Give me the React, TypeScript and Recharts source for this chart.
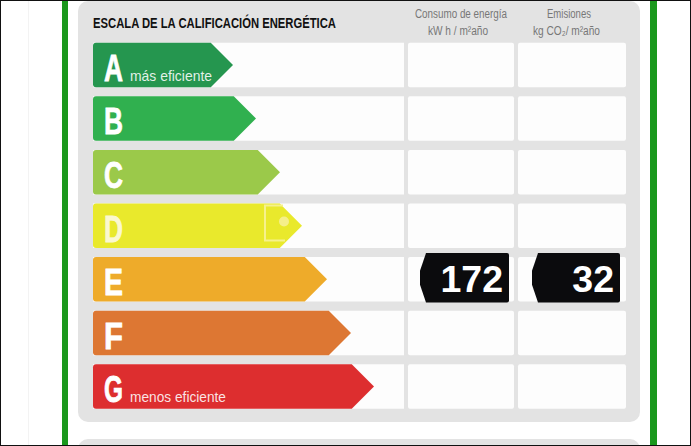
import React from "react";
import { BarChart, Bar, XAxis, YAxis } from "recharts";

const categories = ["A", "B", "C", "D", "E", "F", "G"];
const ratingLength = [140, 163, 187, 209, 234, 258, 281];
const consumo = [null, null, null, null, 172, null, null];
const emisiones = [null, null, null, null, 32, null, null];
const colors = ["#25964f", "#30b04f", "#9bc94a", "#e9e92c", "#eeab2a", "#dd7733", "#dd2e2f"];
const captions: Record<string, string> = { A: "más eficiente", G: "menos eficiente" };

const SANS = "'Liberation Sans', sans-serif";
const ROW_SPAN = 311;
const GAP = 4;
const CELL_1 = 106;
const CELL_2 = 108;

const data = categories.map((c, i) => ({
  c,
  rating: ratingLength[i],
  color: colors[i],
  consumo: consumo[i],
  emisiones: emisiones[i],
  row: ROW_SPAN,
  gap1: GAP,
  cell1: CELL_1,
  gap2: GAP,
  cell2: CELL_2,
}));

const Arrow = (p: any) => {
  const { x, y, width, height, payload } = p;
  const r = 3;
  const tip = x + width;
  const sh = tip - height / 2;
  const b = y + height;
  const d = `M${x + r},${y} L${sh},${y} L${tip},${y + height / 2} L${sh},${b} L${x + r},${b} Q${x},${b} ${x},${b - r} L${x},${y + r} Q${x},${y} ${x + r},${y} Z`;
  const caption = captions[payload.c];
  const letterFill = payload.c === "D" ? "#fbf8d0" : "#fff";
  return (
    <g>
      <path d={d} fill={payload.color} />
      {payload.c === "D" && (
        <g>
          <path d={`M${x + 190},${y + 2} L${x + 172},${y + 2} L${x + 172},${y + 37} L${x + 192},${y + 37}`} fill="none" stroke="#f6f18c" strokeWidth={2} />
          <circle cx={x + 191} cy={y + 18} r={5} fill="#f5ef8a" />
        </g>
      )}
      <text x={x + 11} y={y + 38} fontFamily={SANS} fontWeight={700} fontSize={37.5} textLength={19} lengthAdjust="spacingAndGlyphs" fill={letterFill} stroke={letterFill} strokeWidth={0.8}>
        {payload.c}
      </text>
      {caption && (
        <text x={x + 37} y={y + 38} fontFamily={SANS} fontSize={14.5} textLength={payload.c === "A" ? 82 : 96} lengthAdjust="spacingAndGlyphs" fill="#fff" fillOpacity={0.88}>
          {caption}
        </text>
      )}
    </g>
  );
};

const Cell = (p: any, value: number | null, shift: number) => {
  const { x, y, width, height } = p;
  const mid = y + height / 2;
  const l = x + 12 + shift;
  const R = x + 101 + shift / 2;
  const top = y - 4;
  const bot = y + height + 1;
  const c = (top + bot) / 2;
  return (
    <g>
      <rect x={x} y={y} width={width} height={height} rx={2} fill="#fdfdfd" />
      {value != null && (
        <g>
          <path
            d={`M${l + 6},${top} L${R - 2},${top} Q${R},${top} ${R},${top + 2} L${R},${bot - 2} Q${R},${bot} ${R - 2},${bot} L${l + 6},${bot} L${l},${c + 7} L${l},${c - 7} Z`}
            fill="#0b0b0d"
          />
          <text x={R - 6} y={mid + 13} textAnchor="end" fontFamily={SANS} fontWeight={700} fontSize={37.5} fill="#fff">
            {value}
          </text>
        </g>
      )}
    </g>
  );
};

const headerStyle = { fontFamily: SANS, fontSize: 12.5, fill: "#777", lengthAdjust: "spacingAndGlyphs" };

export default function App() {
  return (
    <div style={{ position: "absolute", left: 0, top: 0, width: 691, height: 446, background: "#fff", overflow: "hidden" }}>
      <svg width={691} height={446} style={{ position: "absolute", left: 0, top: 0 }}>
        <line x1={28.5} y1={0} x2={28.5} y2={446} stroke="#f3f3f3" />
        <rect x={62} y={0} width={6} height={446} fill="#1a981c" />
        <rect x={650} y={0} width={7} height={446} fill="#1a981c" />
        <rect x={78} y={1} width={562} height={421} rx={10} fill="#e3e3e3" />
        <rect x={78} y={439} width={562} height={40} rx={10} fill="#e3e3e3" />
        <text x={93} y={28} fontFamily={SANS} fontWeight={700} fontSize={14} textLength={243} lengthAdjust="spacingAndGlyphs" fill="#111">
          ESCALA DE LA CALIFICACIÓN ENERGÉTICA
        </text>
        <text x={415} y={18} textLength={92} {...headerStyle}>Consumo de energía</text>
        <text x={428} y={35} textLength={60} {...headerStyle}>kW h / m²año</text>
        <text x={547} y={18} textLength={44} {...headerStyle}>Emisiones</text>
        <text x={533} y={35} textLength={67} {...headerStyle}>kg CO₂/ m²año</text>
        <rect x={0.5} y={0.5} width={690} height={445} fill="none" stroke="#111" />
      </svg>
      <div style={{ position: "absolute", left: 0, top: 0 }}>
        <BarChart
          width={691}
          height={446}
          data={data}
          layout="vertical"
          barSize={44.5}
          barGap={-44.5}
          margin={{ top: 37.7, bottom: 33.1, left: 93, right: 65 }}
        >
          <XAxis type="number" domain={[0, 533]} hide />
          <YAxis type="category" dataKey="c" hide />
          <Bar dataKey="row" stackId="cells" fill="#fdfdfd" isAnimationActive={false} />
          <Bar dataKey="gap1" stackId="cells" fill="transparent" isAnimationActive={false} />
          <Bar dataKey="cell1" stackId="cells" isAnimationActive={false} shape={(p: any) => Cell(p, p.payload.consumo, 0)} />
          <Bar dataKey="gap2" stackId="cells" fill="transparent" isAnimationActive={false} />
          <Bar dataKey="cell2" stackId="cells" isAnimationActive={false} shape={(p: any) => Cell(p, p.payload.emisiones, 2)} />
          <Bar dataKey="rating" isAnimationActive={false} shape={Arrow} />
        </BarChart>
      </div>
    </div>
  );
}
